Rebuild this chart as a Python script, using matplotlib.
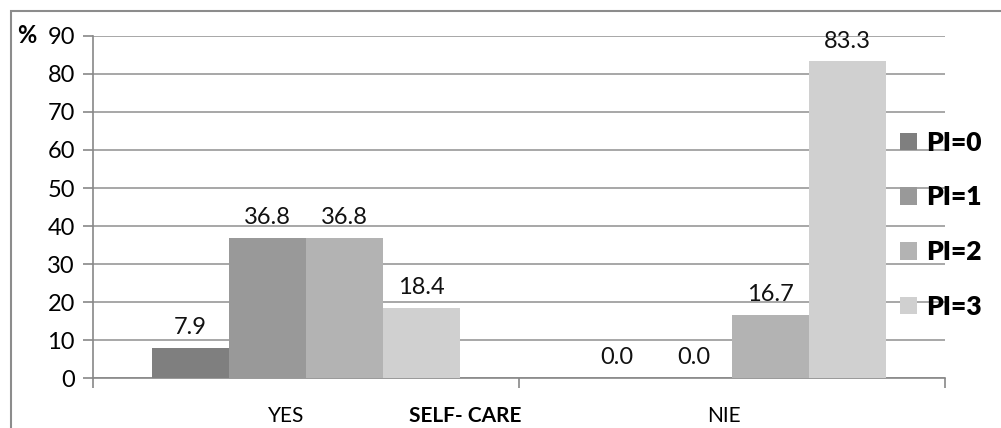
import numpy as np
import matplotlib.pyplot as plt
from matplotlib.patches import Patch, Rectangle

plt.rcParams['font.family'] = ['Lato', 'DejaVu Sans']

# data
groups = ['YES', 'NIE']
series = ['PI=0', 'PI=1', 'PI=2', 'PI=3']
yes_vals = [7.9, 36.8, 36.8, 18.4]
nie_vals = [0.0, 0.0, 16.7, 83.3]
colors = ['#7f7f7f', '#999999', '#b3b3b3', '#d0d0d0']
y_ticks = [0, 10, 20, 30, 40, 50, 60, 70, 80, 90]

fig = plt.figure(figsize=(10.01, 4.28), dpi=100)
ax = fig.add_axes([0.0929, 0.1168, 0.8512, 0.7991])

grid_c = '#a0a0a0'
axis_c = '#888888'

x = np.arange(len(groups))
bw = 0.181
offsets = (np.arange(len(series)) - 1.5) * bw
vals = np.array([yes_vals, nie_vals])  # rows = groups

for i, name in enumerate(series):
    bars = ax.bar(x + offsets[i], vals[:, i], width=bw, color=colors[i],
                  zorder=3, label=name)
    for b, v in zip(bars, vals[:, i]):
        ax.annotate(f'{v:.1f}', (b.get_x() + b.get_width() / 2, v),
                    xytext=(0, 7), textcoords='offset points',
                    ha='center', va='bottom', fontsize=17, color='#111111')

ax.set_xlim(-0.5, 1.5)
ax.set_ylim(0, 90)
ax.set_yticks(y_ticks)
ax.yaxis.grid(True, color=grid_c, linewidth=1.3, zorder=0)
ax.set_xticks([-0.5, 0.5, 1.5])
ax.set_xticklabels([])
ax.tick_params(axis='both', direction='out', length=7, width=1.2,
               color=axis_c, labelsize=17, pad=6)
for side in ['top', 'right']:
    ax.spines[side].set_visible(False)
for side in ['left', 'bottom']:
    ax.spines[side].set_color(axis_c)
    ax.spines[side].set_linewidth(1.2)

# category labels under the axis
trans = ax.get_xaxis_transform()
ax.text(-0.047, -0.11, 'YES', transform=trans, ha='center', va='center',
        fontsize=15)
ax.text(0.981, -0.11, 'NIE', transform=trans, ha='center', va='center',
        fontsize=15)
ax.text(0.373, -0.11, 'SELF- CARE', transform=trans, ha='center',
        va='center', fontsize=15, fontweight='bold')

fig.text(0.027, 0.916, '%', ha='center', va='center', fontsize=17,
         fontweight='bold')

handles = [Patch(facecolor=c, edgecolor='none') for c in colors]
fig.legend(handles, series, loc='center left', bbox_to_anchor=(0.899, 0.475),
           frameon=False, prop={'size': 19, 'weight': 'heavy'},
           handlelength=0.65, handleheight=0.65, handletextpad=0.35,
           labelspacing=1.16, borderaxespad=0, borderpad=0)

# outer chart border
fig.patches.append(Rectangle((0.0105, -0.1), 1.2, 1.074,
                             transform=fig.transFigure, fill=False,
                             edgecolor='#8c8c8c', linewidth=1.5))

fig.savefig('out.png', dpi=100)
